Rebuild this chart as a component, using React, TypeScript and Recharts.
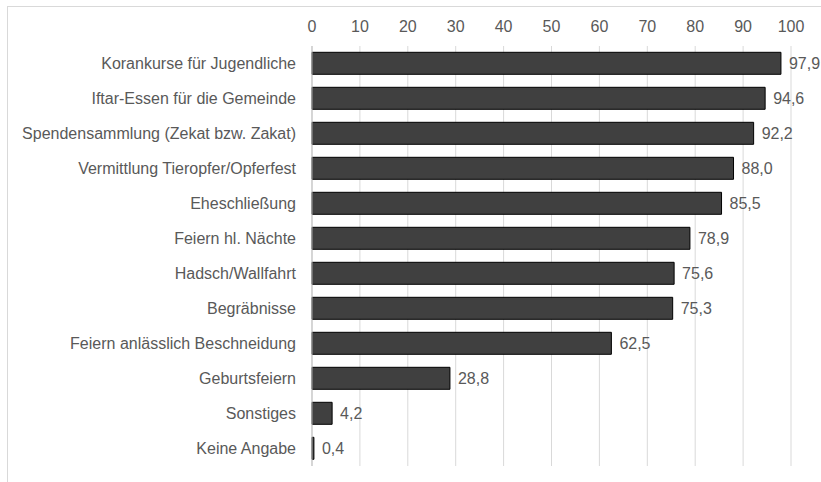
import { BarChart, Bar, XAxis, YAxis, CartesianGrid, LabelList } from "recharts"

const categories = [
  "Korankurse für Jugendliche",
  "Iftar-Essen für die Gemeinde",
  "Spendensammlung (Zekat bzw. Zakat)",
  "Vermittlung Tieropfer/Opferfest",
  "Eheschließung",
  "Feiern hl. Nächte",
  "Hadsch/Wallfahrt",
  "Begräbnisse",
  "Feiern anlässlich Beschneidung",
  "Geburtsfeiern",
  "Sonstiges",
  "Keine Angabe",
]

const values = [97.9, 94.6, 92.2, 88.0, 85.5, 78.9, 75.6, 75.3, 62.5, 28.8, 4.2, 0.4]

const xTicks = [0, 10, 20, 30, 40, 50, 60, 70, 80, 90, 100]

const data = categories.map((name, i) => ({ name, value: values[i] }))

const font = "'Liberation Sans', Arial, sans-serif"
const fmt = (v: any) => Number(v).toFixed(1).replace(".", ",")

export default function App() {
  return (
    <div style={{ position: "fixed", top: 0, left: 0, width: 821, height: 482, overflow: "hidden", background: "#fff" }}>
      {/* rahmen */}
      <div style={{ position: "absolute", left: 7, top: 6, width: 900, height: 600, border: "1px solid #d9d9d9" }} />
      <div style={{ position: "absolute", left: 0, top: 0 }}>
        <BarChart
          width={821}
          height={482}
          data={data}
          layout="vertical"
          margin={{ top: 16, right: 30, bottom: 16, left: 0 }}
          barCategoryGap="18%"
        >
          <CartesianGrid horizontal={false} vertical={true} stroke="#d9d9d9" />
          <XAxis
            type="number"
            orientation="top"
            domain={[0, 100]}
            ticks={xTicks}
            interval={0}
            axisLine={false}
            tickLine={false}
            tickSize={0}
            tickMargin={14}
            height={30}
            tick={{ fill: "#595959", fontSize: 16, fontFamily: font }}
          />
          <YAxis
            type="category"
            dataKey="name"
            width={312}
            axisLine={{ stroke: "#bfbfbf" }}
            tickLine={false}
            tickSize={0}
            tickMargin={16}
            interval={0}
            tick={{ fill: "#595959", fontSize: 16, fontFamily: font }}
          />
          <Bar dataKey="value" fill="#404040" stroke="#000" strokeWidth={1} isAnimationActive={false}>
            <LabelList
              dataKey="value"
              position="right"
              offset={8}
              formatter={fmt}
              style={{ fill: "#595959", fontSize: 16, fontFamily: font }}
            />
          </Bar>
        </BarChart>
      </div>
    </div>
  )
}
